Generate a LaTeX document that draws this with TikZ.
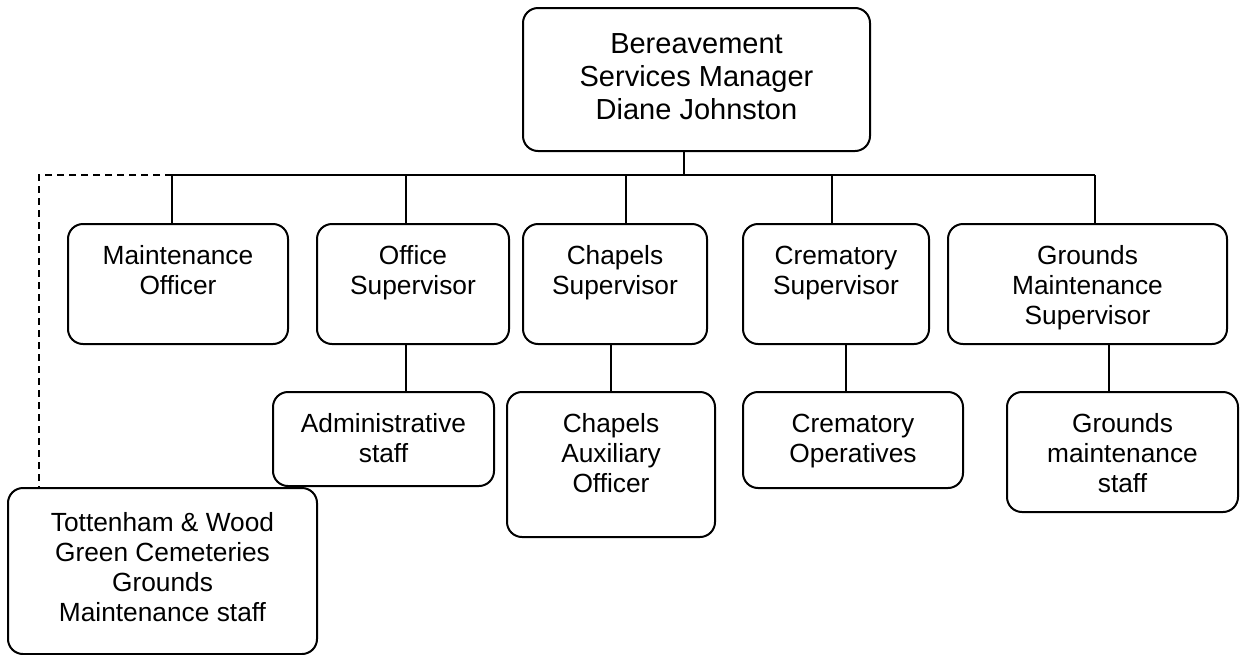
\documentclass[tikz,border=0pt]{standalone}
\usepackage{fontspec}
\setmainfont{Liberation Sans}

\tikzset{
    post/.style={draw, line width=2pt, rounded corners=15pt, align=center,
        anchor=north, inner sep=0pt,
        font=\fontsize{26.3}{30.2}\selectfont},
    two/.style={text height=70.2pt},
    three/.style={text height=100.4pt},
    link/.style={line width=1.9pt},
}

\begin{document}
\begin{tikzpicture}[x=1pt, y=-1pt]
    \useasboundingbox (0,0) rectangle (1243,654);

    \node[post, minimum width=347pt, text height=111.6pt, text depth=31.4pt,
        font=\fontsize{29}{33.3}\selectfont] (manager) at (696.5,7)
        {Bereavement\\Services Manager\\Diane Johnston};

    \node[post, two, minimum width=220pt, text depth=49.8pt] (maint) at (178,223) {Maintenance\\Officer};
    \node[post, two, minimum width=192pt, text depth=49.8pt] (office) at (413,223) {Office\\Supervisor};
    \node[post, two, minimum width=184pt, text depth=49.8pt] (chapels) at (615,223) {Chapels\\Supervisor};
    \node[post, two, minimum width=186pt, text depth=49.8pt] (crem) at (836,223) {Crematory\\Supervisor};
    \node[post, three, minimum width=279pt, text depth=19.6pt] (grounds) at (1087.5,223) {Grounds\\Maintenance\\Supervisor};

    \node[post, two, minimum width=221pt, text depth=23.8pt] (admin) at (383.5,391) {Administrative\\staff};
    \node[post, three, minimum width=208pt, text depth=44.6pt] (auxiliary) at (611,391) {Chapels\\Auxiliary\\Officer};
    \node[post, two, minimum width=220pt, text depth=25.8pt] (operatives) at (853,391) {Crematory\\Operatives};
    \node[post, three, minimum width=231pt, text depth=19.6pt] (gstaff) at (1122.5,391) {Grounds\\maintenance\\staff};

    \node[post, minimum width=309pt, text height=133.6pt, text depth=32.4pt] (cemeteries) at (162.5,487)
        {Tottenham \& Wood\\Green Cemeteries\\Grounds\\Maintenance staff};

    \coordinate (bus) at (684,175);
    \draw[link] ([xshift=-12.5]manager.south) -- (bus);
    \draw[link] ([xshift=-6]maint.north |- bus) -- ([xshift=7.5]grounds.north |- bus);
    \foreach \n/\dx in {maint/-6, office/-7, chapels/11, crem/-4, grounds/7.5}
        \draw[link] ([xshift=\dx]\n.north) -- ([xshift=\dx]\n.north |- bus);

    \foreach \a/\b/\dx in {office/admin/-7, chapels/auxiliary/-4, crem/operatives/10, grounds/gstaff/21.5}
        \draw[link] ([xshift=\dx]\a.south) -- ([xshift=\dx]\a.south |- \b.north);

    %dotted line to the cemeteries staff
    \draw[link, dash pattern=on 7pt off 5pt] ([xshift=-6]maint.north |- bus) -| ([xshift=-123.5]cemeteries.north);
\end{tikzpicture}
\end{document}
